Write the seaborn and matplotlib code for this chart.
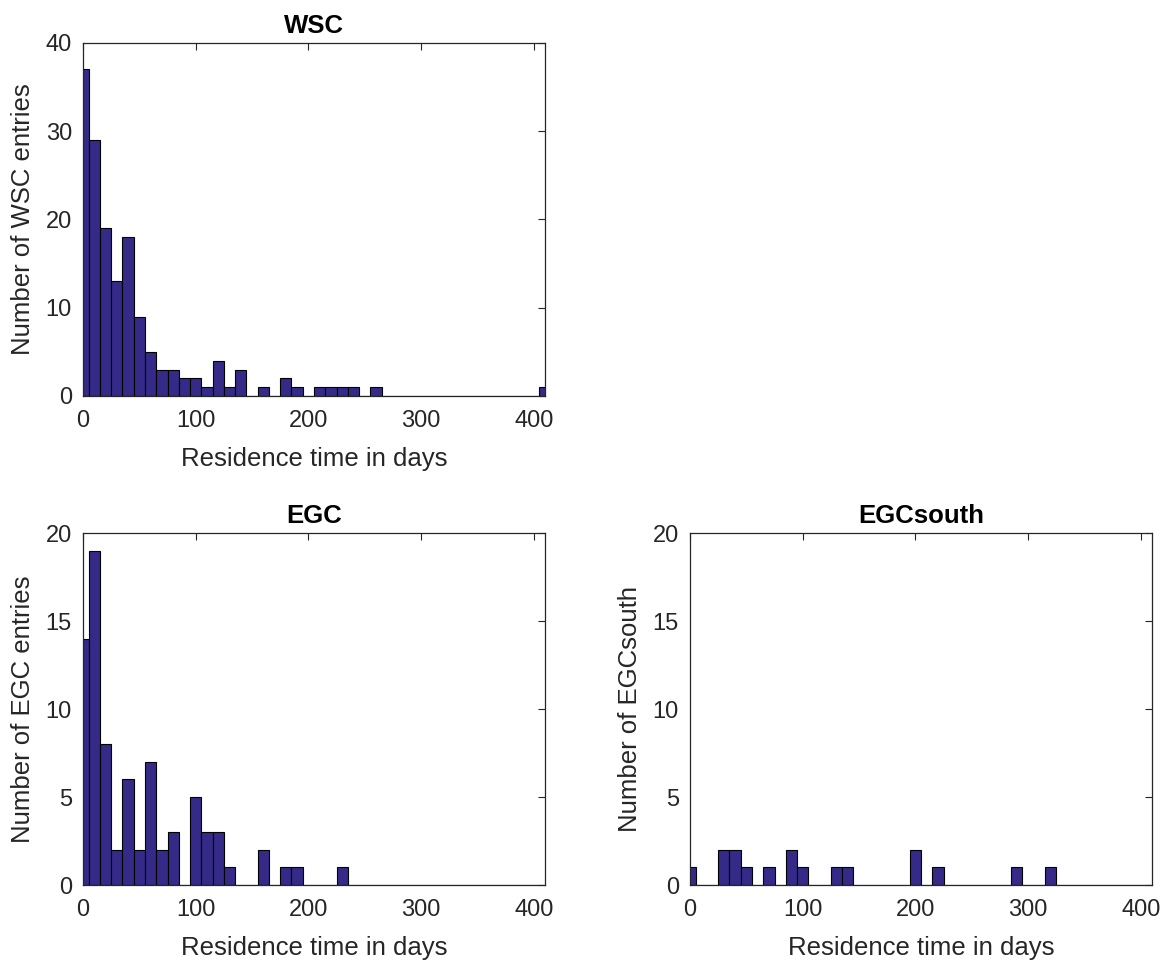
import matplotlib
matplotlib.use("Agg")
import matplotlib.pyplot as plt
import seaborn as sns
import numpy as np

# Bin centres (days) and counts
centers = list(range(0, 420, 10))

wsc_counts = [37, 29, 19, 13, 18, 9, 5, 3, 3, 2,
              2, 1, 4, 1, 3, 0, 1, 0, 2, 1,
              0, 1, 1, 1, 1, 0, 1, 0, 0, 0,
              0, 0, 0, 0, 0, 0, 0, 0, 0, 0,
              0, 1]

egc_counts = [14, 19, 8, 2, 6, 2, 7, 2, 3, 0,
              5, 3, 3, 1, 0, 0, 2, 0, 1, 1,
              0, 0, 0, 1, 0, 0, 0, 0, 0, 0,
              0, 0, 0, 0, 0, 0, 0, 0, 0, 0,
              0, 0]

egcs_counts = [1, 0, 0, 2, 2, 1, 0, 1, 0, 2,
               1, 0, 0, 1, 1, 0, 0, 0, 0, 0,
               2, 0, 1, 0, 0, 0, 0, 0, 0, 1,
               0, 0, 1, 0, 0, 0, 0, 0, 0, 0,
               0, 0]

titles = ["WSC", "EGC", "EGCsouth"]
ylabels = ["Number of WSC entries", "Number of EGC entries", "Number of EGCsouth"]
xlabel = "Residence time in days"
xticks = [0, 100, 200, 300, 400]
yticks_list = [[0, 10, 20, 30, 40], [0, 5, 10, 15, 20], [0, 5, 10, 15, 20]]
ylims = [(0, 40), (0, 20), (0, 20)]

sns.set_style("white")
plt.rcParams['font.family'] = ['Liberation Sans', 'DejaVu Sans']

BAR = "#352A87"
AXC = "#262626"

fig = plt.figure(figsize=(11.67, 9.6), dpi=100)
W, H = 1167, 960
boxes = [(83, 43, 545, 396), (83, 533, 545, 885), (690, 533, 1152, 885)]

data = [wsc_counts, egc_counts, egcs_counts]
for i, (l, t, r, b) in enumerate(boxes):
    ax = fig.add_axes([l / W, (H - b) / H, (r - l) / W, (b - t) / H])
    sns.histplot(x=centers, weights=data[i], binwidth=10, binrange=(-5, 415),
                 color=BAR, alpha=1.0, edgecolor="black", linewidth=0.8, ax=ax)
    ax.set_xlim(0, 410)
    ax.set_ylim(*ylims[i])
    ax.set_xticks(xticks)
    ax.set_yticks(yticks_list[i])
    ax.tick_params(direction="in", length=5, width=0.8, colors=AXC,
                   labelsize=17, top=True, right=True,
                   labeltop=False, labelright=False)
    ax.tick_params(axis="x", pad=10)
    ax.tick_params(axis="y", pad=8)
    for s in ax.spines.values():
        s.set_visible(True)
        s.set_color(AXC)
        s.set_linewidth(0.9)
    ax.set_xlabel(xlabel, fontsize=18.5, color=AXC, labelpad=11)
    ax.set_ylabel(ylabels[i], fontsize=18.5, color=AXC, labelpad=8)
    ax.set_title(titles[i], fontsize=18.5, fontweight="bold", color="black", pad=7)

fig.savefig("out.png", dpi=100)
